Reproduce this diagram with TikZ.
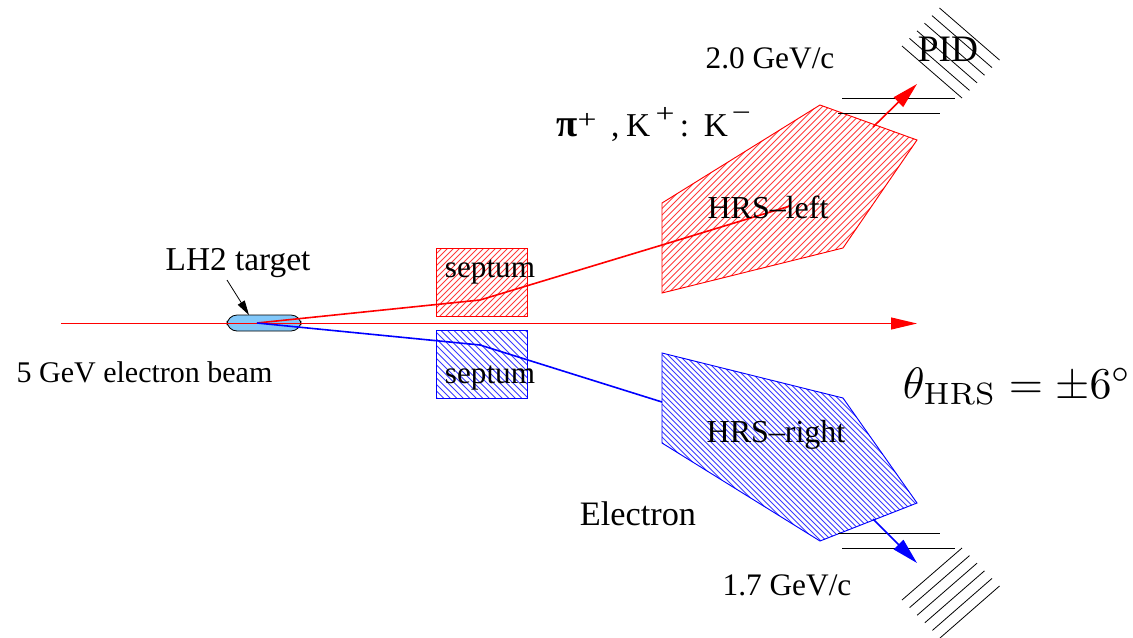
\documentclass[tikz,border=0pt]{standalone}
\usepackage[no-math]{fontspec}
\setmainfont{Liberation Serif}
\usetikzlibrary{arrows.meta}
\definecolor{targetblue}{RGB}{130,200,250}
\definecolor{hatchr}{RGB}{255,60,60}
\definecolor{hatchb}{RGB}{60,60,255}
\newcommand{\supmark}[2]{\raisebox{#1}{\fontsize{21}{24}\selectfont\scalebox{1.2}[0.95]{#2}}}
\begin{document}
\begin{tikzpicture}[x=0.75pt,y=-0.75pt,
  txt/.style={inner sep=0pt,text=black,anchor=base},
  ray/.style={line width=1.2pt},
  bar/.style={black,line width=0.7pt},
  det/.style={black,line width=0.6pt},
  hatchred/.style={hatchr,line width=0.6pt},
  hatchblue/.style={hatchb,line width=0.6pt},
  bighead/.style={-{Triangle[length=19.5pt,width=10pt]}},
  beamhead/.style={-{Triangle[length=19.5pt,width=9pt]}},
  smallhead/.style={-{Triangle[length=11pt,width=6pt]}}]
\useasboundingbox (0,0) rectangle (1133,637);
% key points
\coordinate (s1a) at (436,248); \coordinate (s1b) at (527,316);
\coordinate (s2a) at (436,330); \coordinate (s2b) at (527,398);
\coordinate (vtx) at (257,323);
\coordinate (r1) at (480,300); \coordinate (r2) at (662,245); \coordinate (r3) at (790,206);
\coordinate (b1) at (480,345); \coordinate (b2) at (662,402);
\coordinate (rout) at (873,127); \coordinate (rtip) at (917,84);
\coordinate (bout) at (873,519); \coordinate (btip) at (917,563);
\coordinate (beamA) at (61,323.5); \coordinate (beamB) at (917,323.5);
% septa
\begin{scope}
 \clip (s1a) rectangle (s1b);
 \foreach \k in {350,356,...,530} \draw[hatchred] (\k,322) -- (\k+80,242);
\end{scope}
\draw[red,line width=0.7pt] (s1a) rectangle (s1b);
\begin{scope}
 \clip (s2a) rectangle (s2b);
 \foreach \k in {350,356.5,...,530} \draw[hatchblue] (\k,324) -- (\k+80,404);
\end{scope}
\draw[blue,line width=0.7pt] (s2a) rectangle (s2b);
% spectrometers
\begin{scope}
 \clip (662,203) -- (820,105) -- (917,140) -- (843,248) -- (662,293) -- cycle;
 \foreach \k in {460,466.5,...,920} \draw[hatchred] (\k,300) -- (\k+200,100);
\end{scope}
\draw[red,line width=0.7pt] (662,203) -- (820,105) -- (917,140) -- (843,248) -- (662,293) -- cycle;
\begin{scope}
 \clip (662,353) -- (843,398) -- (917,503) -- (820,541) -- (662,443) -- cycle;
 \foreach \k in {465,470.5,...,920} \draw[hatchblue] (\k,350) -- (\k+195,545);
\end{scope}
\draw[blue,line width=0.7pt] (662,353) -- (843,398) -- (917,503) -- (820,541) -- (662,443) -- cycle;
% detector planes
\draw[bar] (842,98) -- (955,98);
\draw[bar] (838,113) -- (940,113);
\draw[bar] (838,533) -- (940,533);
\draw[bar] (842,548) -- (955,548);
\foreach \i in {0,...,5} {
  \draw[det] (902+7.5*\i,46-7.6*\i) -- (962+7.5*\i,98-7.6*\i);
  \draw[det] (902+7.6*\i,600+7.6*\i) -- (962+7.5*\i,548+7.6*\i);
}
% target
\node[draw=black,fill=targetblue,line width=0.6pt,rounded corners=7.5pt,minimum width=55.5pt,minimum height=12pt,inner sep=0pt] (target) at (264,323) {};
% beam and rays
\draw[red,line width=0.8pt,beamhead] (beamA) -- (beamB);
\draw[red,ray] (vtx) -- (r1) -- (r2) -- (r3);
\draw[blue,ray] (vtx) -- (b1) -- (b2);
\draw[red,ray,bighead] (rout) -- (rtip);
\draw[blue,ray,bighead] (bout) -- (btip);
% labels
\node[txt,font=\fontsize{25}{27}\selectfont] (lh2) at (238,270) {LH2 target};
\draw[black,line width=0.6pt,smallhead] (227,280) -- (249,315);
\node[txt,font=\fontsize{22.5}{24}\selectfont] (beam) at (144.5,382) {5 GeV electron beam};
\node[txt,font=\fontsize{23.4}{26}\selectfont] (sep1) at (490,277) {septum};
\node[txt,font=\fontsize{23.4}{26}\selectfont] (sep2) at (490,383) {septum};
\node[txt,font=\fontsize{24}{26}\selectfont] (hrsl) at (768,218) {HRS--left};
\node[txt,font=\fontsize{24}{26}\selectfont] (hrsr) at (776,442) {HRS--right};
\node[txt,font=\fontsize{23.5}{26}\selectfont] (mom1) at (770,68) {2.0 GeV/c};
\node[txt,font=\fontsize{23.5}{26}\selectfont] (mom2) at (787,595) {1.7 GeV/c};
\node[txt,font=\fontsize{25.7}{28}\selectfont] (elec) at (638,525) {Electron};
\node[txt,font=\fontsize{28}{30}\selectfont] (pid) at (948,61) {PID};
\node[txt,anchor=base west,font=\fontsize{25}{28}\selectfont] (had) at (556,136)
  {\makebox[13pt][l]{\fontsize{29}{30}\selectfont\bfseries π}\hspace{3pt}\supmark{5.5pt}{+}\hspace{11pt},\hspace{5pt}K\hspace{4pt}\supmark{10.5pt}{+}\hspace{4pt}:\hspace{11pt}K\hspace{3pt}\supmark{11pt}{−}};
\node[txt,anchor=base west,scale=3.3] (theta) at (902,398) {$\theta_{\rm HRS}=\pm 6^\circ$};
\end{tikzpicture}
\end{document}
